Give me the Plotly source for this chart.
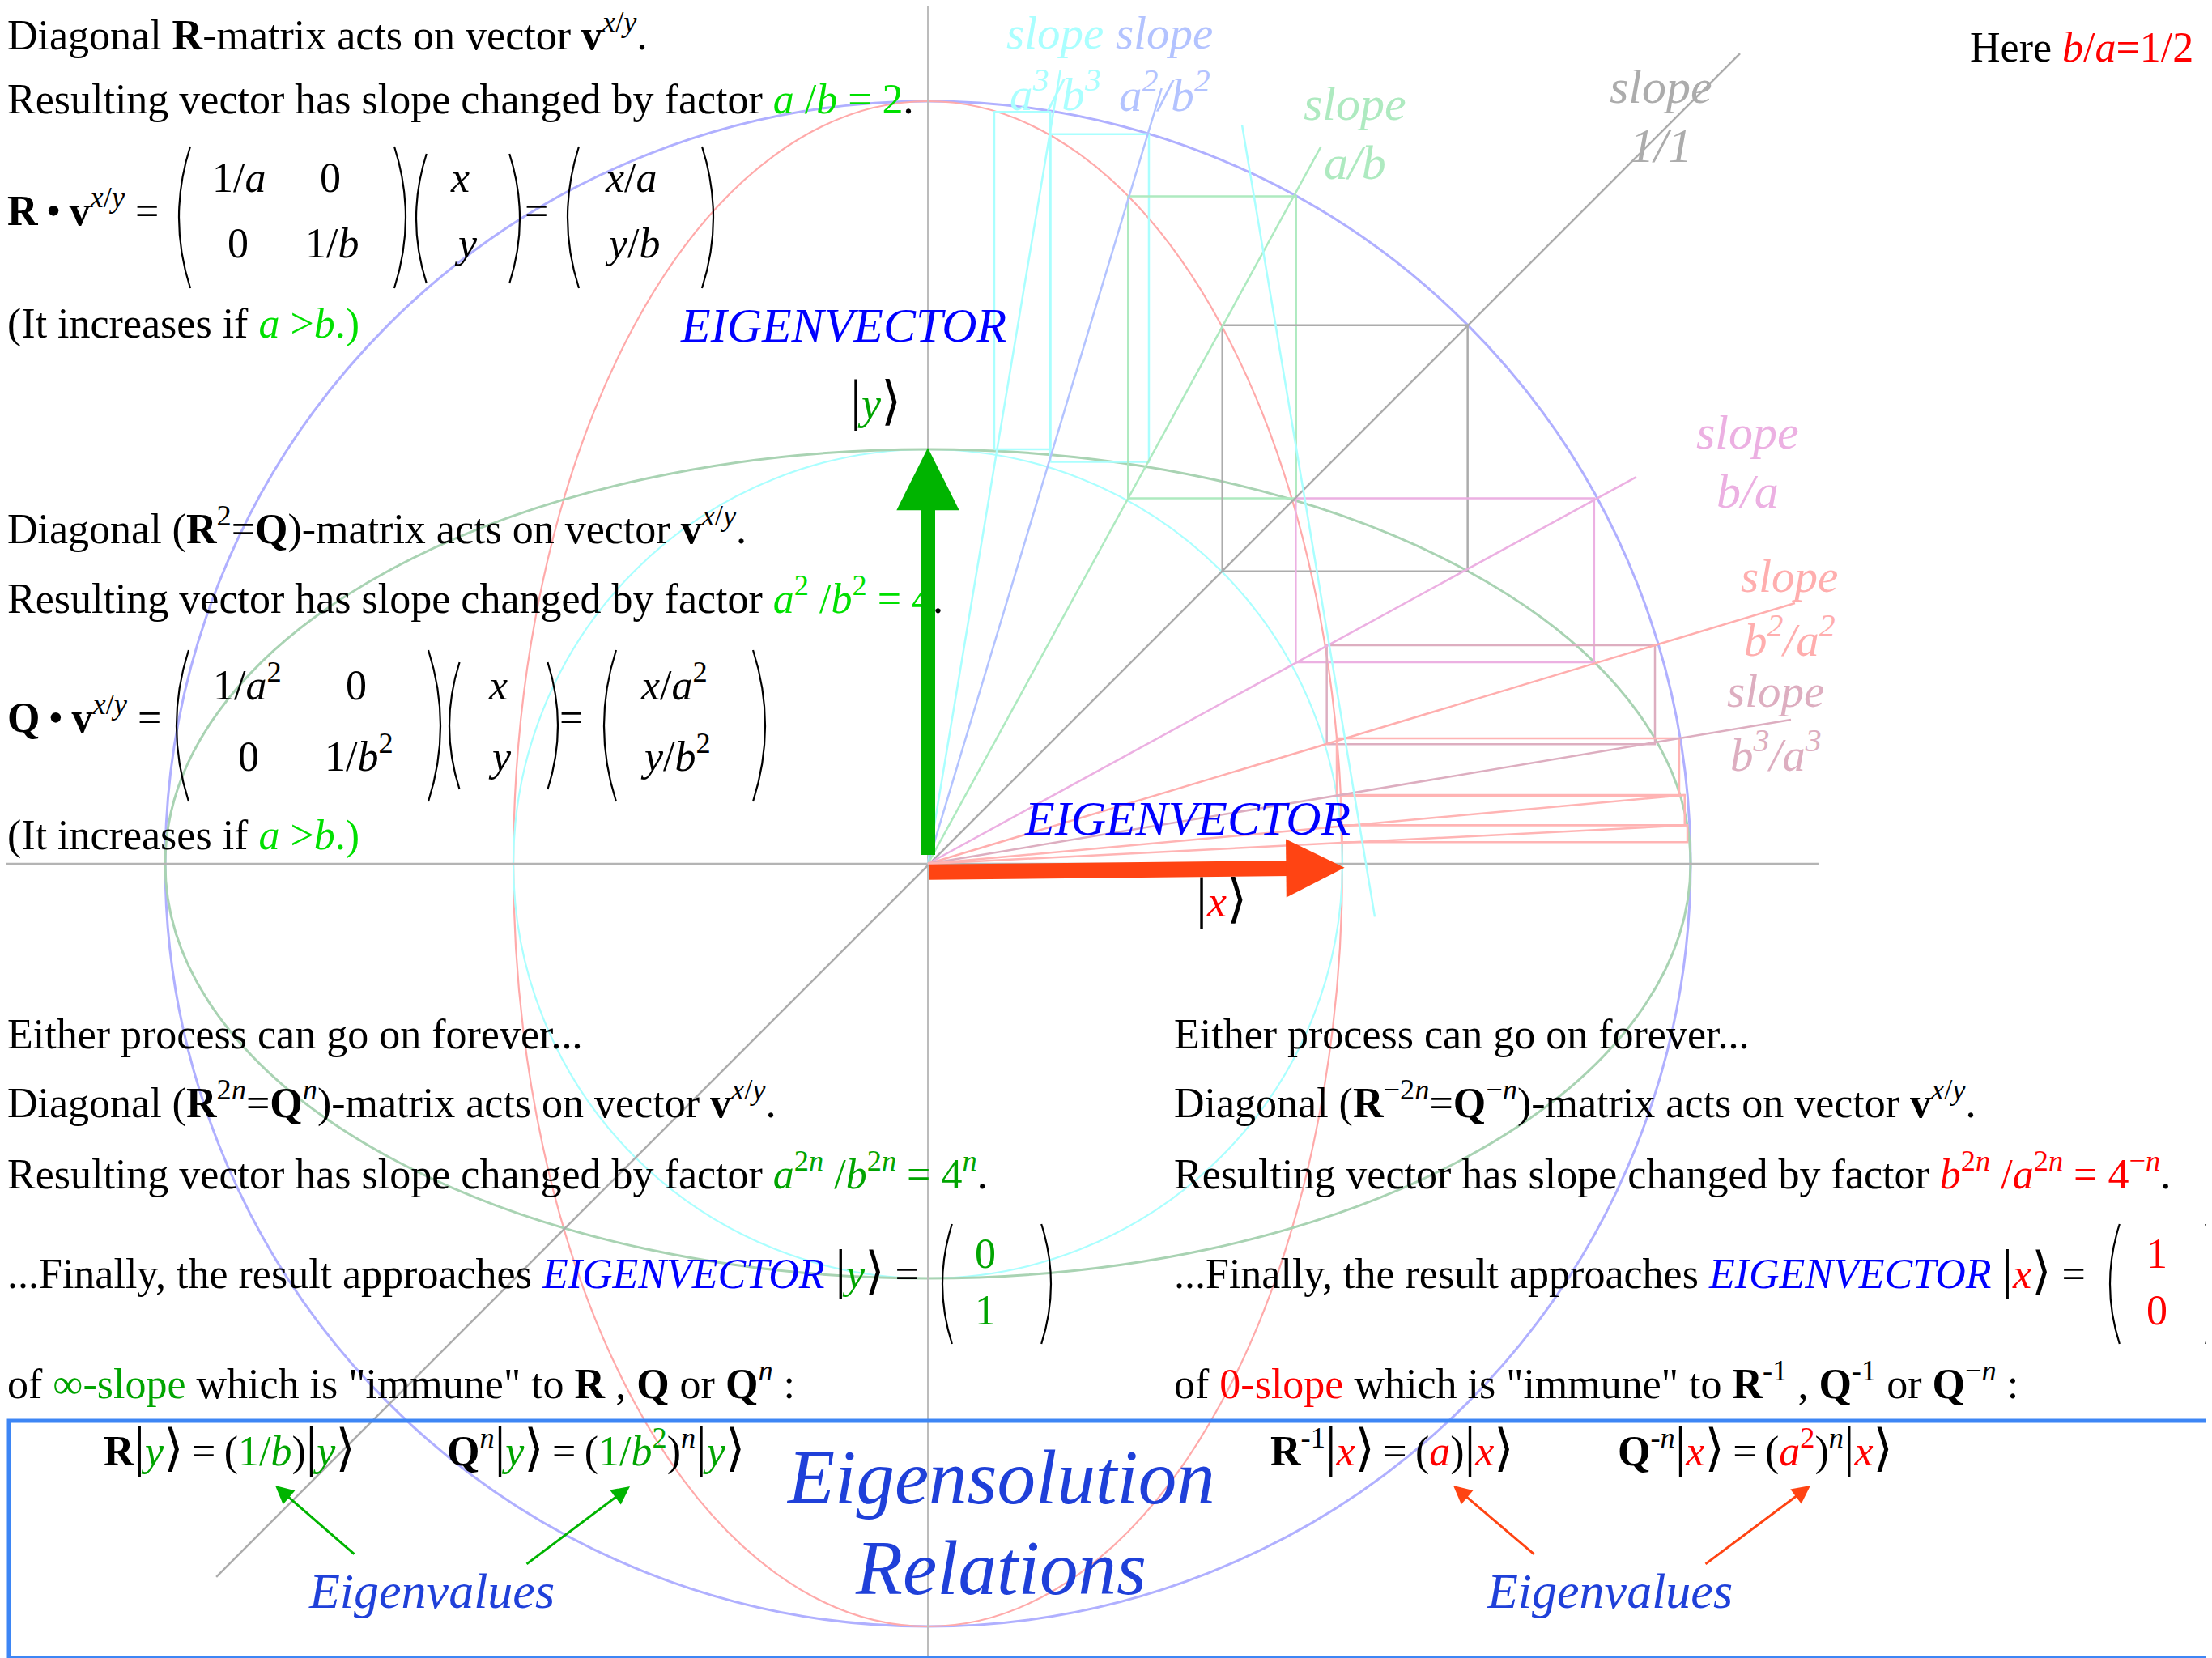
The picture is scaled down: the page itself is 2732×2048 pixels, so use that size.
import plotly.graph_objects as go

# page size and where the diagram origin sits on it (px)
W, H = 2732, 2048
OX, OY, S = 1138, 1059, 942      # S = px per unit (radius of the big circle)

# ---------------- geometry (units of big radius) ----------------
# ellipses: big circle, red, cyan, green
ell_rx = [1.0, 0.5435, 0.5435, 1.0]
ell_ry = [1.0, 1.0, 0.5435, 0.5435]

# slope rays  a3/b3, a2/b2, a/b, 1/1, b/a, b2/a2, b3/a3, b4/a4, b5/a5
ray_x0 = [0, 0, 0, -0.933, 0, 0, 0, 0, 0]
ray_y0 = [0, 0, 0, -0.935, 0, 0, 0, 0, 0]
ray_x1 = [0.1738, 0.3065, 0.5152, 1.0648, 0.9289, 1.1369, 1.1316, 0.9923, 0.9965]
ray_y1 = [1.0408, 1.0170, 0.9402, 1.0626, 0.5074, 0.3418, 0.1890, 0.0902, 0.0506]

# rectangles between the ellipses
box_x0 = [0.0870, 0.1606, 0.2625, 0.3861, 0.4823, 0.5230, 0.5361, 0.5414, 0.5425]
box_x1 = [0.1606, 0.2898, 0.4827, 0.7077, 0.8735, 0.9533, 0.9851, 0.9923, 0.9958]
box_y0 = [0.5435, 0.5272, 0.4794, 0.3834, 0.2643, 0.1568, 0.0892, 0.0506, 0.0283]
box_y1 = [0.9859, 0.9567, 0.8752, 0.7063, 0.4792, 0.2866, 0.1645, 0.0902, 0.0506]

# the lone near-vertical cyan line
extra_x = [0.4119, 0.5860]
extra_y = [0.9688, -0.0694]

# axes
axis_h_x = [-1.2081, 1.1677]
axis_v_y = [-1.0499, 1.1242]

# eigenvectors |y> and |x>
eig_y = 0.5457
eig_x = 0.5463

slope_top = ["slope"] * 7
slope_bot = ["a<sup>3</sup>/b<sup>3</sup>", "a<sup>2</sup>/b<sup>2</sup>", "a/b", "1/1",
             "b/a", "b<sup>2</sup>/a<sup>2</sup>", "b<sup>3</sup>/a<sup>3</sup>"]

# ---------------- styles ----------------
ell_col = ["#b0b0ff", "#ffaaaa", "#aaffff", "#a9d3b3"]
ell_w = [3, 2.2, 2.2, 3]
ray_col = ["#aaffff", "#b3c3ff", "#aeeac0", "#acacac", "#ecb0e2", "#ffaeae", "#ddaec0",
           "#ffb4b4", "#ffb4b4"]
box_col = ["#aaffff", "#aaffff", "#aeeac0", "#acacac", "#ecb0e2", "#ddaec0", "#ffb4b4",
           "#ffb4b4", "#ffb4b4"]
lab_col = ["#aaffff", "#b3c3ff", "#aeeac0", "#acacac", "#ecb0e2", "#ffaeae", "#ddaec0"]
lab_pos = [(1295, 57, 133), (1430, 57, 134), (1665, 145, 218), (2043, 124, 197),
           (2150, 551, 624), (2202, 728, 807), (2185, 870, 949)]
lab_size = [57, 57, 60, 60, 60, 57, 57]

FONT = "Liberation Serif, DejaVu Serif, serif"
GB = "#00e000"     # bright green
GD = "#00a400"     # darker green
RED = "#ff0000"
BLUE = "#0000ff"
BIG = "#1f40d9"
TH = "\u2009"      # thin space

fig = go.Figure()

for rx, ry, c, w in zip(ell_rx, ell_ry, ell_col, ell_w):
    fig.add_shape(type="circle", xref="x", yref="y", x0=-rx, x1=rx, y0=-ry, y1=ry,
                  line=dict(color=c, width=w), layer="below")

# axes
fig.add_trace(go.Scatter(x=axis_h_x, y=[0, 0], mode="lines", line=dict(color="#b4b4b4", width=2.5)))
fig.add_trace(go.Scatter(x=[0, 0], y=axis_v_y, mode="lines", line=dict(color="#bcbcbc", width=2)))

for i in range(len(box_x0)):
    fig.add_trace(go.Scatter(x=[box_x0[i], box_x1[i], box_x1[i], box_x0[i], box_x0[i]],
                             y=[box_y0[i], box_y0[i], box_y1[i], box_y1[i], box_y0[i]],
                             mode="lines", line=dict(color=box_col[i], width=2.5)))
for i in range(len(ray_x1)):
    fig.add_trace(go.Scatter(x=[ray_x0[i], ray_x1[i]], y=[ray_y0[i], ray_y1[i]], mode="lines",
                             line=dict(color=ray_col[i], width=2.5)))
fig.add_trace(go.Scatter(x=extra_x, y=extra_y, mode="lines", line=dict(color="#aaffff", width=2.5)))


def px(x):
    return x / W


def py(y):
    return 1 - y / H


anns = []


def txt(s, x, base, size=52, color="black", anchor="left"):
    # x = left edge (or centre) and base = text baseline, both in page px
    if anchor == "left":
        x = max(x - 0.17 * size, 0.5)
    anns.append(dict(text=s, x=px(x), y=py(base + 0.125 * size), xref="paper", yref="paper",
                     xanchor=anchor, yanchor="bottom", showarrow=False, borderpad=0, borderwidth=0,
                     font=dict(family=FONT, size=size, color=color)))


def col(s, c):
    return f"<span style='color:{c}'>{s}</span>"


BAR = "<span style='font-size:1.3em'>|</span>"
RA = "<span style='font-size:1.2em'>⟩</span>"
V = "<b>v</b><sup><i>x</i>/<i>y</i></sup>"
KET_Y = BAR + col("<i>y</i>", GD) + RA
KET_X = BAR + col("<i>x</i>", RED) + RA
EQ = TH + "=" + TH

# ---- top-left block ----
txt(f"Diagonal <b>R</b>-matrix acts on vector {V}.", 7, 58)
txt("Resulting vector has slope changed by factor " + col("<i>a</i> /<i>b</i> = 2", GB) + ".", 7, 137)
txt(f"<b>R</b>{TH}•{TH}{V} =", 9, 274)
txt("1/<i>a</i>", 263, 233); txt("0", 396, 233)
txt("0", 282, 314); txt("1/<i>b</i>", 378, 314)
txt("<i>x</i>", 557, 233); txt("<i>y</i>", 562, 314)
txt("=", 649, 274)
txt("<i>x</i>/<i>a</i>", 748, 233); txt("<i>y</i>/<i>b</i>", 748, 314)
txt("(It increases if " + col("<i>a</i> ><i>b</i>.)", GB), 7, 414)

# ---- middle-left block ----
txt(f"Diagonal (<b>R</b><sup>2</sup>=<b>Q</b>)-matrix acts on vector {V}.", 7, 668)
txt("Resulting vector has slope changed by factor "
    + col("<i>a</i><sup>2</sup> /<i>b</i><sup>2</sup> = 4", GB) + ".", 7, 753)
txt(f"<b>Q</b>{TH}•{TH}{V} =", 8, 900)
txt("1/<i>a</i><sup>2</sup>", 264, 860); txt("0", 428, 860)
txt("0", 295, 948); txt("1/<i>b</i><sup>2</sup>", 402, 948)
txt("<i>x</i>", 604, 860); txt("<i>y</i>", 604, 948)
txt("=", 692, 900)
txt("<i>x</i>/<i>a</i><sup>2</sup>", 792, 860); txt("<i>y</i>/<i>b</i><sup>2</sup>", 792, 948)
txt("(It increases if " + col("<i>a</i> ><i>b</i>.)", GB), 7, 1046)

# ---- bottom-left block ----
txt("Either process can go on forever...", 7, 1291)
txt(f"Diagonal (<b>R</b><sup>2<i>n</i></sup>=<b>Q</b><sup><i>n</i></sup>)-matrix acts on vector {V}.", 7, 1377)
txt("Resulting vector has slope changed by factor "
    + col("<i>a</i><sup>2<i>n</i></sup> /<i>b</i><sup>2<i>n</i></sup> = 4<sup><i>n</i></sup>", GD) + ".", 7, 1464)
txt("...Finally, the result approaches " + col("<i>EIGENVECTOR</i>", BLUE) + " " + KET_Y + " =", 7, 1591)
txt(col("0", GD), 1205, 1562); txt(col("1", GD), 1205, 1632)
txt("of " + col("∞-slope", GD) + " which is \"immune\" to <b>R</b> , <b>Q</b> or <b>Q</b><sup><i>n</i></sup> :", 7, 1723)

# ---- bottom-right block ----
txt("Either process can go on forever...", 1451, 1291)
txt(f"Diagonal (<b>R</b><sup>−2<i>n</i></sup>=<b>Q</b><sup>−<i>n</i></sup>)-matrix acts on vector {V}.", 1451, 1377)
txt("Resulting vector has slope changed by factor "
    + col("<i>b</i><sup>2<i>n</i></sup> /<i>a</i><sup>2<i>n</i></sup> = 4<sup>−<i>n</i></sup>", RED) + ".", 1451, 1464)
txt("...Finally, the result approaches " + col("<i>EIGENVECTOR</i>", BLUE) + " " + KET_X + " =", 1451, 1591)
txt(col("1", RED), 2652, 1562); txt(col("0", RED), 2652, 1632)
txt("of " + col("0-slope", RED) + " which is \"immune\" to <b>R</b><sup>-1</sup> , <b>Q</b><sup>-1</sup> or <b>Q</b><sup>−<i>n</i></sup> :", 1451, 1723)

# ---- eigen relations box ----
txt("<b>R</b>" + KET_Y + EQ + "(" + col("1/<i>b</i>", GD) + ")" + KET_Y, 129, 1810)
txt("<b>Q</b><sup><i>n</i></sup>" + KET_Y + EQ + "(" + col("1/<i>b</i><sup>2</sup>", GD) + ")<sup><i>n</i></sup>" + KET_Y, 553, 1810)
txt("<b>R</b><sup>-1</sup>" + KET_X + EQ + "(" + col("<i>a</i>", RED) + ")" + KET_X, 1570, 1810)
txt("<b>Q</b><sup>-<i>n</i></sup>" + KET_X + EQ + "(" + col("<i>a</i><sup>2</sup>", RED) + ")<sup><i>n</i></sup>" + KET_X, 1999, 1810)
txt("<i>Eigensolution</i>", 1228, 1858, 95, BIG, "center")
txt("<i>Relations</i>", 1228, 1970, 95, BIG, "center")
txt("<i>Eigenvalues</i>", 525, 1983, 62, BIG, "center")
txt("<i>Eigenvalues</i>", 1980, 1983, 62, BIG, "center")

# ---- labels on the diagram ----
txt("<i>EIGENVECTOR</i>", 842, 419, 60, BLUE)
txt("<i>EIGENVECTOR</i>", 1267, 1028, 60, BLUE)
txt(BAR + col("<i>y</i>", GD) + RA, 1051, 517, 54)
txt(BAR + col("<i>x</i>", RED) + RA, 1478, 1132, 54)
txt("Here " + col("<i>b</i>/<i>a</i>=1/2", RED), 2434, 73)
for t, b, (cx, b1, b2), c, fs in zip(slope_top, slope_bot, lab_pos, lab_col, lab_size):
    txt(f"<i>{t}</i>", cx, b1, fs, c, "center")
    txt("<i>" + b.replace("a", "<i>a</i>").replace("b", "<i>b</i>") + "</i>", cx, b2, fs, c, "center")

# ---- arrows ----
anns.append(dict(x=0, y=eig_y, ax=0, ay=0.01, xref="x", yref="y", axref="x", ayref="y", text="",
                 showarrow=True, arrowhead=2, arrowsize=0.86, arrowwidth=18, arrowcolor="#00b400",
                 font=dict(size=1)))
anns.append(dict(x=eig_x, y=-0.005, ax=0, ay=-0.011, xref="x", yref="y", axref="x", ayref="y", text="",
                 showarrow=True, arrowhead=2, arrowsize=0.76, arrowwidth=19, arrowcolor="#ff4413",
                 font=dict(size=1)))
for (tx, ty, hx, hy, c) in [(431, 1913, 332, 1827, "#00b400"), (641, 1925, 770, 1828, "#00b400"),
                            (1888, 1913, 1787, 1827, "#ff4413"), (2097, 1925, 2228, 1827, "#ff4413")]:
    anns.append(dict(x=px(hx), y=py(hy), xref="paper", yref="paper", ax=tx - hx, ay=ty - hy,
                     text="", showarrow=True, arrowhead=2, arrowsize=1.5, arrowwidth=3,
                     arrowcolor=c, font=dict(size=1)))

# ---- matrix parentheses ----
shapes = []


def paren(xm, y0, y1, side):
    bulge = 0.08 * (y1 - y0)
    xe = xm + bulge if side == "l" else xm - bulge
    xc = 2 * xm - xe
    shapes.append(dict(type="path", xref="paper", yref="paper",
                       path=f"M {px(xe)},{py(y0)} Q {px(xc)},{py((y0 + y1) / 2)} {px(xe)},{py(y1)}",
                       line=dict(color="black", width=2.2)))


for xm, y0, y1, sd in [(213, 173, 348, "l"), (493, 173, 348, "r"), (506, 182, 342, "l"),
                       (634, 182, 342, "r"), (693, 173, 348, "l"), (873, 173, 348, "r"),
                       (210, 795, 982, "l"), (536, 795, 982, "r"), (547, 810, 967, "l"),
                       (681, 810, 967, "r"), (738, 795, 982, "l"), (937, 795, 982, "r"),
                       (1156, 1504, 1652, "l"), (1290, 1504, 1652, "r"),
                       (2598, 1504, 1652, "l"), (2728, 1504, 1652, "r")]:
    paren(xm, y0, y1, sd)

# blue frame
shapes.append(dict(type="rect", xref="paper", yref="paper", x0=px(3), x1=px(2725), y0=py(2040),
                   y1=py(1747), line=dict(color="#3d86f5", width=5)))

for s in shapes:
    fig.add_shape(**s)

fig.update_layout(
    width=W, height=H, margin=dict(l=0, r=0, t=0, b=0),
    paper_bgcolor="white", plot_bgcolor="white", showlegend=False,
    xaxis=dict(range=[-OX / S, (W - OX) / S], visible=False, fixedrange=True),
    yaxis=dict(range=[-(H - OY) / S, OY / S], visible=False, fixedrange=True),
    annotations=anns,
)

fig.write_html("out.html", config={"displayModeBar": False})
